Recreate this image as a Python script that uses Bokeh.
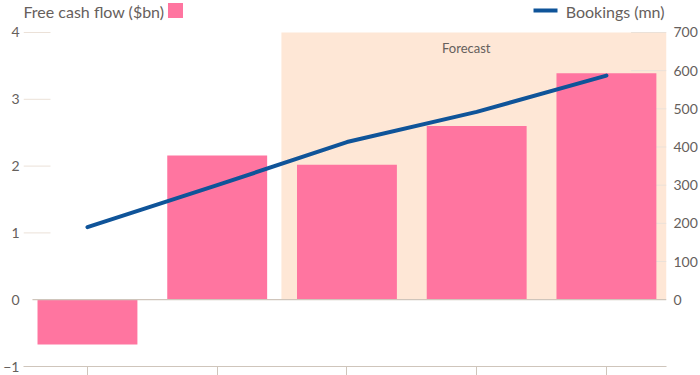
from bokeh.plotting import figure
from bokeh.models import Range1d, LinearAxis, FixedTicker
from bokeh.embed import file_html
from bokeh.resources import INLINE
from bokeh.core.properties import value

# ---- data ----
period_index = [0, 1, 2, 3, 4]
free_cash_flow_bn = [-0.67, 2.16, 2.02, 2.60, 3.39]
bookings_mn = [190, 300, 413, 492, 587]
left_ticks = [-1, 0, 1, 2, 3, 4]
right_ticks = [0, 100, 200, 300, 400, 500, 600, 700]
forecast_from = 1.495
forecast_label = "Forecast"
fcf_label = "Free cash flow ($bn)"
bookings_label = "Bookings (mn)"

# ---- styles ----
PINK = "#ff75a0"
BLUE = "#0f5499"
SHADE = "#fee7d6"
GRID = "#ebe1d8"
AXIS = "#cfc5bb"
TEXT = "#66605c"
FONT = "Lato"

PX_PER_X = 129.75
PX_PER_Y = 66.8
X0, X1 = -0.493, 4.463
Y0, Y1 = -1, 4.479
RATIO = 175  # bookings units per fcf unit (700 <-> 4)

p = figure(width=700, height=375,
           x_range=Range1d(X0, X1), y_range=Range1d(Y0, Y1),
           output_backend="svg", toolbar_location=None,
           min_border_left=0, min_border_right=0, min_border_top=0, min_border_bottom=0)
p.extra_y_ranges = {"bk": Range1d(Y0 * RATIO, Y1 * RATIO)}
p.outline_line_color = None
p.grid.visible = False
p.background_fill_color = "white"
p.border_fill_color = "white"

def style_y(ax, standoff):
    ax.axis_line_color = None
    ax.major_tick_line_color = None
    ax.minor_tick_line_color = None
    ax.major_tick_out = 0
    ax.major_tick_in = 0
    ax.major_label_text_font = FONT
    ax.major_label_text_font_size = "14px"
    ax.major_label_text_color = TEXT
    ax.major_label_standoff = standoff

ya = p.yaxis[0]
ya.ticker = FixedTicker(ticks=left_ticks)
style_y(ya, 4)

ra = LinearAxis(y_range_name="bk", ticker=FixedTicker(ticks=right_ticks))
style_y(ra, 7)
p.add_layout(ra, "right")

xa = p.xaxis[0]
xa.ticker = FixedTicker(ticks=period_index)
xa.major_label_overrides = {i: "" for i in period_index}
xa.major_label_text_font_size = "1px"
xa.major_label_standoff = 0
xa.axis_line_color = AXIS
xa.major_tick_line_color = AXIS
xa.major_tick_out = 9
xa.major_tick_in = 0
xa.minor_tick_line_color = None

# forecast shading
p.quad(left=forecast_from, right=X1, bottom=0, top=4, fill_color=SHADE, line_color=None)

# short gridlines
lg = [t for t in left_ticks if t > 0]
p.segment(x0=[X0] * len(lg), x1=[-0.285] * len(lg), y0=lg, y1=lg, line_color=GRID, line_width=1)
rg = [t for t in right_ticks if t > 0]
p.segment(x0=[4.19] * len(rg), x1=[X1] * len(rg), y0=rg, y1=rg, line_color=GRID, line_width=1,
          y_range_name="bk")

# bars
p.vbar(x=period_index, top=free_cash_flow_bn, bottom=0, width=0.77, fill_color=PINK, line_color=None)

# zero line
p.segment(x0=[-0.424], x1=[X1], y0=[0], y1=[0], line_color=AXIS, line_width=1.2)

# bookings line
p.line(x=period_index, y=bookings_mn, y_range_name="bk", line_color=BLUE, line_width=4,
       line_cap="round", line_join="round")

# forecast label
p.text(x=[2.92], y=[3.775], text=[forecast_label], text_align="center",
       text_baseline="middle", text_font=value(FONT), text_font_size="13px", text_color=TEXT)

# legend row (top of plot)
top_y = Y1 - 1 / PX_PER_Y
mid_y = Y1 - 10 / PX_PER_Y
p.text(x=[X0], y=[top_y], text=[fcf_label], text_align="left", text_baseline="top",
       text_font=value(FONT), text_font_size="16px", text_color=TEXT)
p.rect(x=[X0 + 152 / PX_PER_X], y=[mid_y], width=15, height=15, width_units="screen",
       height_units="screen", fill_color=PINK, line_color=None)
p.text(x=[X1 - 2 / PX_PER_X], y=[top_y], text=[bookings_label], text_align="right", text_baseline="top",
       text_font=value(FONT), text_font_size="16px", text_color=TEXT)
p.segment(x0=[X1 - 133 / PX_PER_X], x1=[X1 - 109 / PX_PER_X], y0=[mid_y], y1=[mid_y],
          line_color=BLUE, line_width=4)

open("out.html", "w").write(file_html(p, INLINE))
